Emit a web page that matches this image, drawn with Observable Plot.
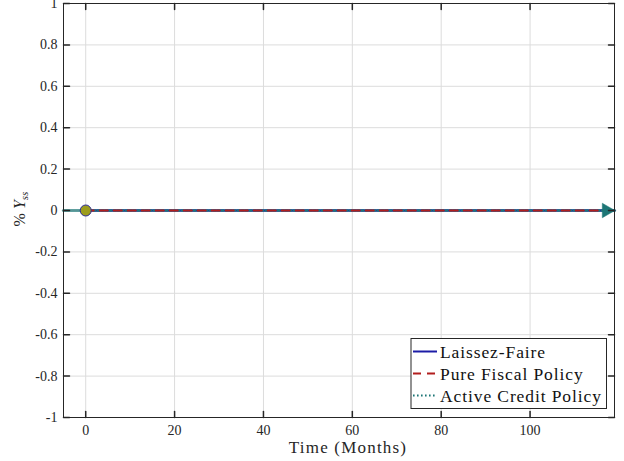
<!DOCTYPE html>
<html><head><meta charset="utf-8">
<script src="https://cdn.jsdelivr.net/npm/d3@7"></script>
<script src="https://cdn.jsdelivr.net/npm/@observablehq/plot@0.6"></script>
<style>body{margin:0;background:#fff} svg{display:block}</style>
</head><body><div id="chart"></div>
<script>
// Data (all responses are flat at zero)
const months = [0, 119];
const laissezFaire = [0, 0];
const pureFiscal = [0, 0];
const activeCredit = [0, 0];
const steadyStateX = [-5, 119];
const steadyStateY = [0, 0];
const initialPoint = [{t: 0, v: 0}];
const xTicks = [0, 20, 40, 60, 80, 100];
const yTicks = [-1, -0.8, -0.6, -0.4, -0.2, 0, 0.2, 0.4, 0.6, 0.8, 1];
const yTickLabels = ["-1", "-0.8", "-0.6", "-0.4", "-0.2", "0", "0.2", "0.4", "0.6", "0.8", "1"];
const seriesNames = ["Laissez-Faire", "Pure Fiscal Policy", "Active Credit Policy"];
const seriesColors = ["#1c1ca6", "#b21e1e", "#1d7676"];
const xLabel = "Time (Months)";

const FONT = "'Liberation Serif', 'Times New Roman', 'DejaVu Serif', serif";
const toRows = (ys) => months.map((t, i) => ({t, v: ys[i]}));
const arrowRows = steadyStateX.map((t, i) => ({t, v: steadyStateY[i]}));
const tickShape = {draw(ctx, l) { ctx.moveTo(0, 0); ctx.lineTo(0, -l); }};
const axisColor = "#262626";
const dashes = [null, "8,6", "1.6,2.4"];

const plot = Plot.plot({
  width: 624, height: 461,
  marginLeft: 63, marginRight: 10, marginTop: 3, marginBottom: 44,
  style: {fontFamily: FONT, fontSize: "14px", color: axisColor, background: "#fff"},
  x: {domain: [-5, 119], label: null},
  y: {domain: [-1, 1], label: null},
  marks: [
    Plot.gridX(xTicks, {stroke: "#dcdcdc", strokeOpacity: 1}),
    Plot.gridY(yTicks, {stroke: "#dcdcdc", strokeOpacity: 1}),
    Plot.axisX(xTicks, {tickSize: 0, tickPadding: 8, fontSize: 14, fontFamily: FONT}),
    Plot.axisY(yTicks, {tickSize: 0, tickPadding: 6, fontSize: 14, fontFamily: FONT, tickFormat: (d) => yTickLabels[yTicks.indexOf(d)]}),
    // steady-state arrow shaft
    Plot.line(arrowRows, {x: "t", y: "v", stroke: seriesColors[2], strokeWidth: 3.2, strokeOpacity: 0.7}),
    Plot.line(toRows(laissezFaire), {x: "t", y: "v", stroke: seriesColors[0], strokeWidth: 2}),
    Plot.line(toRows(activeCredit), {x: "t", y: "v", stroke: seriesColors[2], strokeWidth: 2, strokeDasharray: dashes[2]}),
    Plot.line(toRows(pureFiscal), {x: "t", y: "v", stroke: seriesColors[1], strokeWidth: 2, strokeDasharray: dashes[1]}),
    // arrowhead
    Plot.dot([arrowRows[1]], {x: "t", y: "v", symbol: "triangle", rotate: 90, r: 5.4, dx: -8, fill: seriesColors[2], stroke: seriesColors[2], strokeWidth: 0.5}),
    // initial point marker
    Plot.dot(initialPoint, {x: "t", y: "v", r: 5.5, fill: "#9c9c1c", stroke: "#2a2a9c", strokeWidth: 1}),
    // inward ticks on all four sides
    Plot.vector(xTicks, {x: (d) => d, frameAnchor: "bottom", rotate: 0, length: 6, anchor: "start", shape: tickShape, stroke: axisColor}),
    Plot.vector(xTicks, {x: (d) => d, frameAnchor: "top", rotate: 180, length: 6, anchor: "start", shape: tickShape, stroke: axisColor}),
    Plot.vector(yTicks, {y: (d) => d, frameAnchor: "left", rotate: 90, length: 6, anchor: "start", shape: tickShape, stroke: axisColor}),
    Plot.vector(yTicks, {y: (d) => d, frameAnchor: "right", rotate: 270, length: 6, anchor: "start", shape: tickShape, stroke: axisColor}),
    Plot.frame({stroke: axisColor, strokeWidth: 1})
  ]
});

const svg = d3.select(plot);

// x label
svg.append("text")
  .attr("x", 348).attr("y", 453)
  .attr("text-anchor", "middle")
  .style("font-family", FONT).style("font-size", "17px")
  .attr("letter-spacing", 1.2)
  .attr("fill", axisColor)
  .text(xLabel);

// y label: % Y_ss
const yl = svg.append("text")
  .attr("transform", "translate(25,209) rotate(-90)")
  .attr("text-anchor", "middle")
  .style("font-family", FONT).style("font-size", "16px")
  .attr("fill", axisColor);
yl.append("tspan").text("% ");
yl.append("tspan").style("font-style", "italic").text("Y");
yl.append("tspan").style("font-style", "italic").style("font-size", "11px").attr("dy", 3).text("ss");

// legend
const lg = svg.append("g");
lg.append("rect").attr("x", 411).attr("y", 338.5).attr("width", 195.5).attr("height", 70)
  .attr("fill", "#fff").attr("stroke", axisColor).attr("stroke-width", 1);
seriesNames.forEach((name, i) => {
  const cy = 351.5 + i * 22;
  lg.append("line").attr("x1", 413).attr("x2", 437).attr("y1", cy).attr("y2", cy)
    .attr("stroke", seriesColors[i]).attr("stroke-width", 2)
    .attr("stroke-dasharray", dashes[i]);
  lg.append("text").attr("x", 440).attr("y", cy + 6)
    .attr("text-anchor", "start")
    .style("font-family", FONT).style("font-size", "17.5px")
    .attr("letter-spacing", 0.9)
    .attr("fill", "#111").text(name);
});

document.getElementById("chart").appendChild(plot);
</script>
</body></html>
